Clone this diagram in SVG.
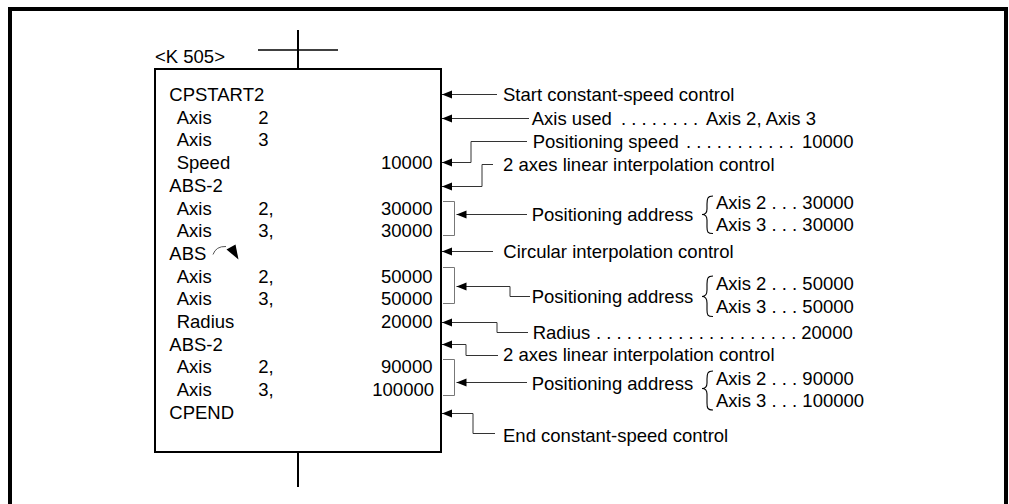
<svg xmlns="http://www.w3.org/2000/svg" width="1009" height="504" viewBox="0 0 1009 504">
<style>
text{font-family:"Liberation Sans",Arial,sans-serif;font-size:18.5px;fill:#000}
.c{fill:none;stroke:#333;stroke-width:1}
.b{fill:none;stroke:#777;stroke-width:1}
.br{fill:none;stroke:#000;stroke-width:1.1}
.r{text-anchor:end}
</style>
<defs>
<marker id="ah" markerUnits="userSpaceOnUse" markerWidth="11" markerHeight="9" refX="10" refY="4" orient="auto">
<path d="M0,0 L10,4 L0,8 z" fill="#000"/>
</marker>
</defs>
<path d="M10,506 V9 H1006 V506" fill="none" stroke="#000" stroke-width="4"/>
<g id="program">
<line x1="298" y1="30" x2="298" y2="69" stroke="#000" stroke-width="2"/>
<line x1="258" y1="50" x2="338" y2="50" stroke="#000" stroke-width="1.6"/>
<line x1="298" y1="452" x2="298" y2="487" stroke="#000" stroke-width="2"/>
<text x="155" y="63">&lt;K 505&gt;</text>
<rect x="155" y="69" width="286" height="383" fill="#fff" stroke="#000" stroke-width="2"/>
<text x="169.3" y="101">CPSTART2</text>
<text x="176.7" y="123.7">Axis</text><text x="258.3" y="123.7">2</text>
<text x="176.7" y="146.4">Axis</text><text x="258.3" y="146.4">3</text>
<text x="176.7" y="169">Speed</text><text class="r" x="432.5" y="169">10000</text>
<text x="169.3" y="191.8">ABS-2</text>
<text x="176.7" y="214.5">Axis</text><text x="258.3" y="214.5">2,</text><text class="r" x="432.5" y="214.5">30000</text>
<text x="176.7" y="237.2">Axis</text><text x="258.3" y="237.2">3,</text><text class="r" x="432.5" y="237.2">30000</text>
<text x="169.3" y="259.9">ABS</text>
<path d="M213,254.5 Q216,246 226,246.5" fill="none" stroke="#555" stroke-width="1"/>
<path d="M226.5,249.5 L235.5,244.5 L238.5,259.5 z" fill="#000"/>
<text x="176.7" y="282.6">Axis</text><text x="258.3" y="282.6">2,</text><text class="r" x="432.5" y="282.6">50000</text>
<text x="176.7" y="305.3">Axis</text><text x="258.3" y="305.3">3,</text><text class="r" x="432.5" y="305.3">50000</text>
<text x="176.7" y="328">Radius</text><text class="r" x="432.5" y="328">20000</text>
<text x="169.3" y="350.7">ABS-2</text>
<text x="176.7" y="373.4">Axis</text><text x="258.3" y="373.4">2,</text><text class="r" x="432.5" y="373.4">90000</text>
<text x="176.7" y="396.1">Axis</text><text x="258.3" y="396.1">3,</text><text class="r" x="434" y="396.1">100000</text>
<text x="169.3" y="418.8">CPEND</text>
</g>
<g id="connectors">
<path class="c" d="M497,94.5 H442" marker-end="url(#ah)"/>
<path class="c" d="M529,118.5 H442" marker-end="url(#ah)"/>
<path class="c" d="M527,141.5 H471 V162.5 H442" marker-end="url(#ah)"/>
<path class="c" d="M493,164.5 H482 V186.5 H442" marker-end="url(#ah)"/>
<path class="b" d="M443,201.5 H454.5 V235.5 H443"/>
<path class="c" d="M527,214.5 H456.5" marker-end="url(#ah)"/>
<path class="c" d="M493,251.5 H442" marker-end="url(#ah)"/>
<path class="b" d="M443,267.5 H454.5 V303.5 H443"/>
<path class="c" d="M530,296.5 H510 V286.5 H456.5" marker-end="url(#ah)"/>
<path class="c" d="M528,332.5 H497 V322.5 H442" marker-end="url(#ah)"/>
<path class="c" d="M498,355.5 H466 V344.5 H442" marker-end="url(#ah)"/>
<path class="b" d="M443,359.5 H454.5 V395.5 H443"/>
<path class="c" d="M527,382.5 H456.5" marker-end="url(#ah)"/>
<path class="c" d="M495,433.5 H473 V413.5 H442" marker-end="url(#ah)"/>
</g>
<g id="labels">
<text x="503" y="100.5">Start constant-speed control</text>
<text y="125"><tspan x="531.7">Axis used</tspan><tspan x="621">. . . . . . . .</tspan><tspan x="706">Axis 2, Axis 3</tspan></text>
<text y="147.5"><tspan x="532.7">Positioning speed</tspan><tspan x="686">. . . . . . . . . . .</tspan><tspan x="802">10000</tspan></text>
<text x="503" y="170.5">2 axes linear interpolation control</text>
<text x="531.7" y="221">Positioning address</text>
<path class="br" d="M713,196 C707.5,196 707,198.5 707,204 L707,209 C707,213 705.5,214.5 702,214.5 C705.5,214.5 707,216 707,220 L707,227 C707,232 707.5,233.5 713,233.5"/>
<text x="716" y="208.5">Axis 2 . . . 30000</text>
<text x="716" y="231">Axis 3 . . . 30000</text>
<text x="503.3" y="258.3">Circular interpolation control</text>
<text x="531.7" y="303">Positioning address</text>
<path class="br" d="M713,276 C707.5,276 707,278.5 707,284 L707,290 C707,294.5 705.5,296.5 702,296.5 C705.5,296.5 707,298.5 707,303 L707,310 C707,315 707.5,316.5 713,316.5"/>
<text x="716" y="290">Axis 2 . . . 50000</text>
<text x="716" y="312.5">Axis 3 . . . 50000</text>
<text y="338.5"><tspan x="532.7">Radius</tspan><tspan x="596">. . . . . . . . . . . . . . . . . . . .</tspan><tspan x="801.3">20000</tspan></text>
<text x="503" y="360.5">2 axes linear interpolation control</text>
<text x="531.7" y="390">Positioning address</text>
<path class="br" d="M713,371 C707.5,371 707,373.5 707,379 L707,383 C707,387 705.5,388.5 702,388.5 C705.5,388.5 707,390 707,394 L707,403 C707,408 707.5,410 713,410"/>
<text x="716" y="385">Axis 2 . . . 90000</text>
<text x="716" y="407">Axis 3 . . . 100000</text>
<text x="503" y="442">End constant-speed control</text>
</g>
</svg>
